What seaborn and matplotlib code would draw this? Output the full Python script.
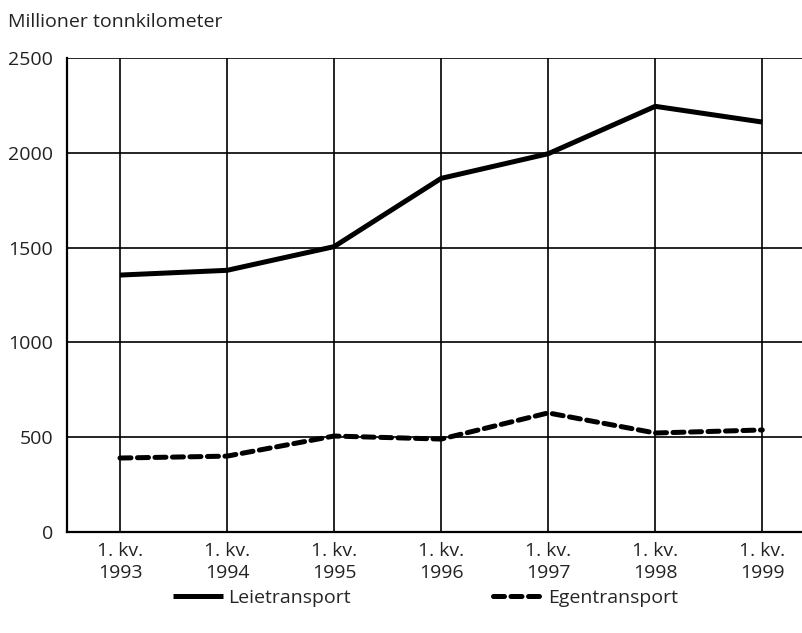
import numpy as np
import pandas as pd
import seaborn as sns
import matplotlib.pyplot as plt

years = ['1993', '1994', '1995', '1996', '1997', '1998', '1999']
tick_labels = ['1. kv.\n' + y for y in years]
leietransport = [1355, 1380, 1505, 1865, 1995, 2245, 2162]
egentransport = [390, 400, 506, 490, 628, 522, 538]

df = pd.DataFrame({
    'pos': list(range(len(years))) * 2,
    'verdi': leietransport + egentransport,
    'serie': ['Leietransport'] * len(years) + ['Egentransport'] * len(years),
})

sns.set_theme(style='white')
plt.rcParams['font.family'] = ['Open Sans', 'DejaVu Sans']

fig = plt.figure(figsize=(8.03, 6.33), dpi=100)
ax = fig.add_axes([0.0834, 0.1596, 0.9166, 0.7488])

sns.lineplot(data=df, x='pos', y='verdi', hue='serie', style='serie',
             palette={'Leietransport': 'black', 'Egentransport': 'black'},
             dashes={'Leietransport': '', 'Egentransport': (2.2, 1.3)},
             linewidth=3.6, ax=ax)
for ln in ax.get_lines():
    ln.set_dash_capstyle('round')
    ln.set_solid_capstyle('butt')

ax.set_xlim(-0.495, 6.38)
ax.set_ylim(0, 2500)
ax.set_yticks([0, 500, 1000, 1500, 2000, 2500])
ax.set_xticks(range(len(years)))
ax.set_xticklabels(tick_labels, linespacing=1.3)
ax.tick_params(axis='both', length=0, labelsize=14, colors='#222222')
ax.tick_params(axis='y', pad=10)
ax.tick_params(axis='x', pad=7)
ax.set_xlabel('')
ax.set_ylabel('')
ax.grid(True, color='black', linewidth=1.2)
ax.set_axisbelow(True)
for s in ['top', 'right']:
    ax.spines[s].set_visible(False)
for s in ['left', 'bottom']:
    ax.spines[s].set_color('black')
    ax.spines[s].set_linewidth(1.6)

fig.text(0.01, 0.965, 'Millioner tonnkilometer', fontsize=14, color='#222222', va='center')

handles, labels = ax.get_legend_handles_labels()
ax.legend(handles, labels, loc='center', bbox_to_anchor=(0.53, 0.055),
          bbox_transform=fig.transFigure, ncol=2, frameon=False,
          fontsize=14, handlelength=2.6, handletextpad=0.25, columnspacing=7.3)

fig.savefig('out.png', dpi=100)
